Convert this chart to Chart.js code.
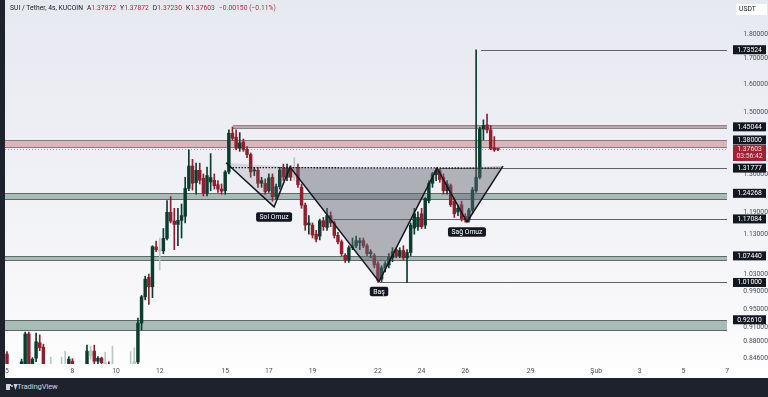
<!DOCTYPE html>
<html><head><meta charset="utf-8">
<script src="https://cdn.jsdelivr.net/npm/chart.js@4.4.0/dist/chart.umd.min.js"></script>
<style>
html,body{margin:0;padding:0;width:768px;height:397px;overflow:hidden;background:#1e222d;font-family:Roboto,"Noto Sans",sans-serif}
#wrap{position:absolute;left:5px;top:0;width:763px;height:378px;background:linear-gradient(#e7e9f0 0%,#eff0f5 45%,#f9f9fb 85%,#ffffff 100%)}
#c{position:absolute;left:0;top:0}
#hdr{position:absolute;left:5px;top:4px;font-size:6.7px;color:#131722;white-space:nowrap;letter-spacing:0.05px}
#hdr .v{color:#b22a3a}
#hdr .g{margin-left:4px}
#foot{position:absolute;left:0;top:378px;width:768px;height:19px;background:#1e222d}
#logo{position:absolute;left:6px;top:6px;width:9px;height:6px}
#logo .a{position:absolute;left:0;top:0;width:3.5px;height:6px;background:#d1d4dc}
#logo .a2{position:absolute;left:0;top:0;width:5px;height:2px;background:#d1d4dc}
#logo .b{position:absolute;left:5px;top:1px;width:2px;height:2px;border-radius:1px;background:#d1d4dc}
#logo .c{position:absolute;left:5.5px;top:0;width:0;height:0;border-left:2px solid transparent;border-right:2px solid transparent;border-top:6px solid #d1d4dc;transform:translateX(1.5px)}
#tvtxt{position:absolute;left:17px;top:4px;font-size:7.6px;color:#d1d4dc;letter-spacing:-0.1px}
</style></head>
<body>
<div id="wrap"><canvas id="c" width="763" height="378"></canvas>
<div id="hdr"><span>SUI / Tether, 4s, KUCOIN</span><span class="g">A</span><span class="v">1.37872</span><span class="g">Y</span><span class="v">1.37872</span><span class="g">D</span><span class="v">1.37230</span><span class="g">K</span><span class="v">1.37603</span><span class="g v">−0.00150 (−0.11%)</span></div>
</div>
<div id="foot"><div id="logo"><div class="a"></div><div class="a2"></div><div class="b"></div><div class="c"></div></div><div id="tvtxt">TradingView</div></div>
<script>
// ---- candle data (4h candles from Jan 5) ----
const firstDay = 5;
const candlesPerDay = 6;
const open  = [0.855,0.825,0.818,0.822,0.828,0.835,0.896,0.825,0.847,0.878,0.869,0.826,0.828,0.826,0.822,0.825,0.828,0.830,0.841,0.828,0.824,0.820,0.830,0.861,0.861,0.841,0.847,0.838,0.835,0.830,0.828,0.825,0.820,0.826,0.830,0.836,
0.8395,0.919,0.977,1.022,1.000,1.097,1.090,1.087,1.119,1.189,1.165,1.156,1.167,1.178,1.257,1.324,1.274,1.311,1.287,1.243,1.276,1.281,1.268,1.255,1.250,1.306,1.429,1.416,1.380,1.400,1.376,1.360,1.309,1.311,1.272,1.272,1.250,1.290,1.233,1.262,1.318,1.290,1.312,1.290,1.318,1.260,1.209,1.155,1.154,1.130,1.125,1.166,1.148,1.180,1.160,1.127,1.110,1.076,1.064,1.095,1.100,1.108,1.113,1.100,1.080,1.075,1.055,1.018,1.045,1.052,1.070,1.090,1.075,1.088,1.070,1.083,1.146,1.150,1.185,1.154,1.222,1.272,1.298,1.310,1.290,1.250,1.265,1.220,1.190,1.210,1.178,1.168,1.195,1.250,1.290,1.443,1.457,1.440,1.380,1.37872];
const high  = [0.860,0.832,0.830,0.834,0.845,0.900,0.900,0.848,0.898,0.894,0.875,0.834,0.849,0.832,0.830,0.849,0.861,0.850,0.846,0.834,0.830,0.830,0.873,0.871,0.873,0.850,0.849,0.859,0.840,0.871,0.835,0.832,0.830,0.833,0.860,0.868,
0.930,0.980,1.025,1.030,1.100,1.112,1.120,1.145,1.222,1.233,1.200,1.200,1.212,1.290,1.375,1.345,1.333,1.333,1.300,1.321,1.363,1.300,1.280,1.270,1.310,1.440,1.450,1.440,1.431,1.410,1.385,1.365,1.320,1.320,1.290,1.285,1.300,1.300,1.270,1.320,1.330,1.330,1.325,1.350,1.330,1.270,1.215,1.180,1.160,1.140,1.170,1.175,1.200,1.190,1.165,1.135,1.115,1.080,1.100,1.120,1.125,1.120,1.120,1.105,1.090,1.080,1.060,1.050,1.060,1.080,1.095,1.095,1.095,1.100,1.090,1.160,1.200,1.190,1.200,1.230,1.280,1.305,1.318,1.315,1.300,1.280,1.270,1.230,1.210,1.220,1.185,1.200,1.260,1.73524,1.450,1.474,1.494,1.455,1.418,1.37872];
const low   = [0.815,0.810,0.805,0.812,0.820,0.825,0.815,0.818,0.840,0.862,0.815,0.815,0.818,0.815,0.812,0.818,0.820,0.822,0.820,0.815,0.812,0.810,0.822,0.845,0.835,0.835,0.830,0.828,0.820,0.820,0.815,0.810,0.810,0.815,0.820,0.830,
0.835,0.905,0.970,0.960,0.975,1.085,1.040,1.080,1.115,1.160,1.090,1.100,1.120,1.160,1.250,1.252,1.240,1.270,1.235,1.235,1.250,1.255,1.245,1.240,1.240,1.300,1.405,1.375,1.370,1.370,1.350,1.290,1.295,1.260,1.260,1.240,1.245,1.220,1.225,1.255,1.280,1.280,1.280,1.280,1.260,1.200,1.140,1.130,1.120,1.110,1.115,1.140,1.140,1.150,1.120,1.105,1.075,1.058,1.058,1.090,1.095,1.090,1.095,1.075,1.070,1.045,1.010,1.012,1.035,1.045,1.060,1.070,1.070,1.065,1.010,1.075,1.130,1.140,1.145,1.145,1.215,1.260,1.280,1.275,1.240,1.240,1.205,1.175,1.180,1.165,1.162,1.162,1.190,1.245,1.285,1.407,1.430,1.375,1.370,1.37230];
const close = [0.825,0.818,0.822,0.828,0.840,0.896,0.825,0.845,0.880,0.868,0.826,0.828,0.826,0.822,0.825,0.828,0.830,0.845,0.828,0.824,0.820,0.826,0.861,0.852,0.841,0.847,0.838,0.835,0.830,0.828,0.825,0.820,0.826,0.830,0.832,0.840,
0.919,0.977,1.018,1.000,1.0976,1.090,1.087,1.119,1.189,1.165,1.156,1.167,1.180,1.257,1.324,1.272,1.311,1.281,1.243,1.295,1.289,1.265,1.255,1.249,1.306,1.429,1.412,1.380,1.397,1.376,1.360,1.306,1.312,1.272,1.280,1.247,1.288,1.233,1.262,1.312,1.290,1.318,1.290,1.300,1.268,1.209,1.154,1.160,1.128,1.117,1.166,1.150,1.180,1.160,1.127,1.110,1.080,1.064,1.095,1.100,1.113,1.113,1.100,1.080,1.084,1.052,1.015,1.045,1.055,1.072,1.085,1.075,1.088,1.070,1.083,1.154,1.185,1.175,1.150,1.228,1.272,1.300,1.310,1.283,1.250,1.270,1.210,1.185,1.200,1.172,1.168,1.195,1.253,1.290,1.443,1.455,1.440,1.379,1.3745,1.37603];
const fadedCandles = [12,15,16,23,27,29,34,35,42,79];

// ---- axis ticks ----
const xTickDays   = [5,8,10,12,15,17,19,22,24,26,29,32,34,36,38];
const xTickLabels = ['5','8','10','12','15','17','19','22','24','26','29','Şub','3','5','7'];
const yTicks = [0.846,0.88,0.91,0.95,0.99,1.03,1.13,1.19,1.30,1.50,1.60,1.70,1.80];

// ---- drawings ----
const zoneKind = ['pink','band','green','green','green'];
const zoneHigh = [1.4068,1.4575,1.24268,1.07440,0.92610];
const zoneLow  = [1.3800,1.4435,1.2227,1.0610,0.9016];
const zoneFrom = [null,15.36,null,null,null];
const levelPrice = [1.73524,1.31777,1.17084,1.01000];
const levelFrom  = [26.72,24.84,19.94,22.09];
const axisLabels = [1.73524,1.45044,1.38000,1.31777,1.24268,1.17084,1.07440,1.01000,0.92610];
const lastPrice = 1.37603;
const countdown = '03:56:42';
const hsDays   = [15.04,17.24,17.97,22.05,24.71,26.08,27.73];
const hsPrices = [1.334,1.204,1.321,1.012,1.3175,1.1625,1.3236];
const hsNames  = {1:'Sol Omuz',3:'Baş',5:'Sağ Omuz'};
const neckDays = [15.2,27.6];
const neckPrices = [1.3194,1.3177];

const GREEN='#0a3d2e', RED='#8e1f2e', FADED='#b9c6c2';
const days = open.map((_,i)=>firstDay+i/candlesPerDay);
const candleColor = ctx => {
  const i = ctx.dataIndex;
  if (fadedCandles.includes(i)) return FADED;
  return close[i] >= open[i] ? GREEN : RED;
};

const FONT = 'Roboto, "Noto Sans", sans-serif';
const zoneStyle = {
  pink:{fill:'#dab6bc',edge:'#857a7d'},
  band:{fill:'#bfa9ad',edge:'#8d8386'},
  green:{fill:'#a9bbb6',edge:'#5e6b68'}
};

const tvPlugin = {
  id:'tv',
  beforeDatasetsDraw(chart){
    const {ctx, chartArea:a, scales:{x,y}} = chart;
    ctx.save();
    ctx.beginPath(); ctx.rect(a.left,a.top,a.right-a.left,a.bottom-a.top); ctx.clip();
    zoneHigh.forEach((hp,i)=>{
      const st = zoneStyle[zoneKind[i]];
      const y1 = Math.round(y.getPixelForValue(hp)), y2 = Math.round(y.getPixelForValue(zoneLow[i]));
      const x1 = zoneFrom[i]===null ? a.left : x.getPixelForValue(zoneFrom[i]);
      ctx.fillStyle = st.fill; ctx.fillRect(x1,y1,a.right-x1,y2-y1);
      ctx.strokeStyle = st.edge; ctx.lineWidth = 1;
      ctx.beginPath();
      ctx.moveTo(x1,y1+0.5); ctx.lineTo(a.right,y1+0.5);
      ctx.moveTo(x1,y2-0.5); ctx.lineTo(a.right,y2-0.5);
      ctx.stroke();
    });
    ctx.strokeStyle = '#5d616c'; ctx.lineWidth = 1;
    levelPrice.forEach((p,i)=>{
      const yy = Math.round(y.getPixelForValue(p))+0.5;
      ctx.beginPath(); ctx.moveTo(x.getPixelForValue(levelFrom[i]),yy); ctx.lineTo(a.right,yy); ctx.stroke();
    });
    const ly = Math.round(y.getPixelForValue(lastPrice))+0.5;
    ctx.strokeStyle = '#d08a93'; ctx.setLineDash([1,2]);
    ctx.beginPath(); ctx.moveTo(a.left,ly); ctx.lineTo(a.right,ly); ctx.stroke();
    ctx.setLineDash([]);
    ctx.restore();
  },
  afterDatasetsDraw(chart){
    const {ctx, chartArea:a, scales:{x,y}} = chart;
    const P = hsDays.map((d,i)=>[x.getPixelForValue(d), y.getPixelForValue(hsPrices[i])]);
    ctx.save();
    ctx.beginPath(); ctx.rect(a.left,a.top,a.right-a.left,a.bottom-a.top); ctx.clip();
    const tri = (i,alpha)=>{
      ctx.fillStyle = `rgba(100,103,114,${alpha})`;
      ctx.beginPath(); ctx.moveTo(...P[i]); ctx.lineTo(...P[i+1]); ctx.lineTo(...P[i+2]); ctx.closePath(); ctx.fill();
    };
    tri(0,0.18); tri(2,0.48); tri(4,0.45);
    ctx.strokeStyle = '#131722'; ctx.lineWidth = 1.3; ctx.setLineDash([1.5,1.5]);
    ctx.beginPath();
    ctx.moveTo(x.getPixelForValue(neckDays[0]), y.getPixelForValue(neckPrices[0]));
    ctx.lineTo(x.getPixelForValue(neckDays[1]), y.getPixelForValue(neckPrices[1]));
    ctx.stroke(); ctx.setLineDash([]);
    ctx.lineWidth = 1.5; ctx.strokeStyle = '#131722'; ctx.lineJoin='miter';
    ctx.beginPath(); P.forEach((p,i)=> i?ctx.lineTo(...p):ctx.moveTo(...p)); ctx.stroke();
    ctx.font = `6.8px ${FONT}`; ctx.textAlign='center'; ctx.textBaseline='middle';
    Object.keys(hsNames).forEach(k=>{
      const t = hsNames[k]; const [px,py] = P[k];
      const w = ctx.measureText(t).width + 7, h = 9.5, cy = py + 10;
      ctx.fillStyle = '#131722';
      ctx.beginPath();
      if (ctx.roundRect) ctx.roundRect(px-w/2, cy-h/2, w, h, 2); else ctx.rect(px-w/2, cy-h/2, w, h);
      ctx.fill();
      ctx.fillStyle = '#ffffff'; ctx.fillText(t, px, cy+0.3);
    });
    ctx.restore();
  },
  afterDraw(chart){
    const {ctx, chartArea:a, scales:{y}} = chart;
    const bx = a.right + 6, bw = 33, bh = 9;
    ctx.save();
    ctx.font = `6.8px ${FONT}`; ctx.textAlign='center'; ctx.textBaseline='middle';
    const cy = y.getPixelForValue(lastPrice);
    const cTop = cy - 4.5, cH = 16;
    axisLabels.forEach(p=>{
      let yy = y.getPixelForValue(p);
      if (yy + bh/2 > cTop && yy - bh/2 < cTop + cH) yy = cTop - bh/2 - 0.5;
      ctx.fillStyle = '#131722';
      ctx.fillRect(bx, yy-bh/2, bw, bh);
      ctx.fillStyle = '#ffffff';
      ctx.fillText(p.toFixed(5), bx+bw/2, yy+0.3);
    });
    ctx.fillStyle = '#a2202f';
    ctx.fillRect(bx, cTop, bw, cH);
    ctx.fillStyle = '#f7d9dc';
    ctx.fillText(lastPrice.toFixed(5), bx+bw/2, cy+0.3);
    ctx.fillText(countdown, bx+bw/2, cy+7.3);
    ctx.fillStyle = '#ffffff';
    ctx.fillRect(a.right+9, 4, 31, 11);
    ctx.fillStyle = '#131722'; ctx.textAlign='left';
    ctx.fillText('USDT', a.right+12, 9.8);
    ctx.restore();
  }
};

new Chart(document.getElementById('c'), {
  type:'bar',
  data:{
    datasets:[
      { label:'body', order:0, grouped:false, barThickness:2.8, minBarLength:1,
        data: days.map((d,i)=>({x:d, y:[open[i], close[i]]})),
        backgroundColor: candleColor, borderWidth:0 },
      { label:'wick', order:1, grouped:false, barThickness:1, minBarLength:1,
        data: days.map((d,i)=>({x:d, y:[low[i], high[i]]})),
        backgroundColor: candleColor, borderWidth:0 }
    ]
  },
  options:{
    responsive:false, animation:false, devicePixelRatio:1,
    layout:{padding:0},
    plugins:{legend:{display:false}, tooltip:{enabled:false}, title:{display:false}},
    scales:{
      x:{ type:'linear', min:4.9083, max:37.997, offset:false,
        grid:{display:false, drawTicks:false}, border:{display:false},
        ticks:{autoSkip:false, maxRotation:0, padding:3, color:'#4a4e59', font:{size:6.8, family:FONT},
          callback:(v)=>{ const k = xTickDays.indexOf(v); return k>=0 ? xTickLabels[k] : ''; }},
        afterBuildTicks: s => { s.ticks = xTickDays.map(v=>({value:v})); },
        afterFit: s => { s.height = 14; s.paddingLeft = 0; s.paddingRight = 0; }
      },
      y:{ type:'logarithmic', position:'right', min:0.83557, max:1.948,
        grid:{display:false, drawTicks:false}, border:{display:false},
        ticks:{padding:9, crossAlign:'far', color:'#4a4e59', font:{size:6.8, family:FONT},
          callback:(v)=> Number(v).toFixed(5)},
        afterBuildTicks: s => { s.ticks = yTicks.map(v=>({value:v})); },
        afterFit: s => { s.width = 41; s.paddingTop = 0; s.paddingBottom = 0; }
      }
    }
  },
  plugins:[tvPlugin]
});
</script>
</body></html>
